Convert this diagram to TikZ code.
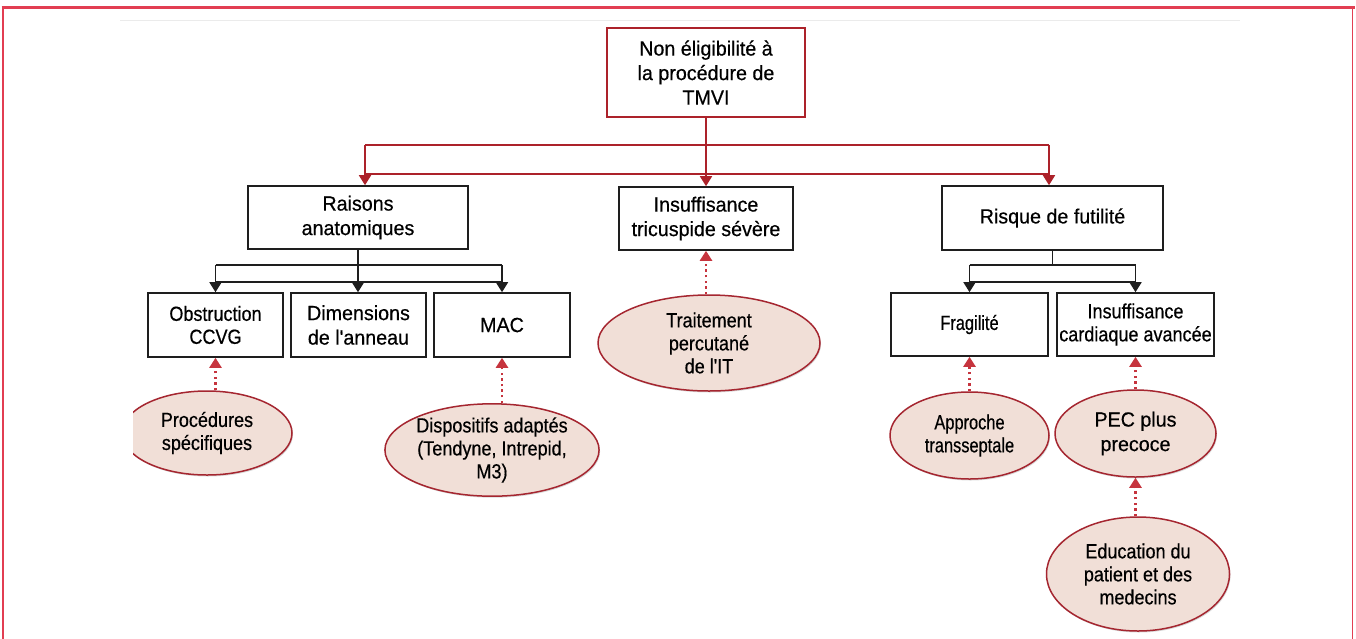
\documentclass[tikz,border=0pt]{standalone}
\usepackage{fontspec}
\setmainfont{Liberation Sans}
\newfontfamily\fontA[FakeStretch=0.96,FakeBold=0.5]{Liberation Sans}
\newfontfamily\fontB[FakeStretch=0.88,FakeBold=0.5]{Liberation Sans}
\newfontfamily\fontC[FakeStretch=0.80,FakeBold=0.5]{Liberation Sans}
\usetikzlibrary{arrows.meta,shapes.geometric,shadows}
\definecolor{framered}{RGB}{226,62,82}
\definecolor{darkred}{RGB}{172,34,42}
\definecolor{dotred}{RGB}{198,52,62}
\definecolor{ellfill}{RGB}{241,223,215}
\definecolor{ellline}{RGB}{165,38,48}
\definecolor{boxline}{RGB}{30,30,30}
\begin{document}
\begin{tikzpicture}[x=1pt,y=-1pt,
  fA/.style={font=\fontA\fontsize{20.5}{24.5}\selectfont},
  fB/.style={font=\fontB\fontsize{20.5}{23}\selectfont},
  fC/.style={font=\fontC\fontsize{20.5}{23}\selectfont},
  txt/.style={align=center, text=black},
  box/.style={txt, draw=boxline, line width=1.6pt, rectangle, inner sep=0pt},
  topbox/.style={box, draw=darkred},
  ell/.style={txt, ellipse, draw=ellline, fill=ellfill, line width=1.5pt, inner sep=0pt,
    drop shadow={shadow xshift=1pt, shadow yshift=-1.5pt, fill=black, opacity=0.15}},
  redc/.style={draw=darkred, line width=1.7pt},
  blkc/.style={draw=boxline, line width=1.7pt},
  tipb/.style={-{Triangle[width=12pt,length=10pt]}},
  dotarrow/.style={draw=dotred, line width=2.4pt, dash pattern=on 2.4pt off 3.2pt, -{Triangle[width=12pt,length=10pt]}},
]
\useasboundingbox (0,0) rectangle (1356,638);
\clip (0,0) rectangle (1356,638);
\fill[white] (0,0) rectangle (1356,638);

% frame
\draw[framered, line width=1.6pt] (3,7) -- (3,660);
\draw[framered, line width=1.6pt] (1352.5,7) -- (1352.5,660);
\draw[framered, line width=3pt] (1.5,7.5) -- (1354.5,7.5);
\draw[black!8, line width=1pt] (120,20.5) -- (1240,20.5);

% boxes
\node[topbox, fA, minimum width=198pt, minimum height=89pt] (top) at (706,72.5) {Non éligibilité à\\la procédure de\\TMVI};
\node[box, fA, minimum width=220pt, minimum height=63pt] (rai) at (358,217.5) {Raisons\\anatomiques};
\node[box, fA, minimum width=174pt, minimum height=63pt] (tric) at (706,218.5) {Insuffisance\\tricuspide sévère};
\node[box, fA, minimum width=221pt, minimum height=64pt] (ris) at (1052.5,218) {Risque de futilité};

\node[box, fB, minimum width=135pt, minimum height=64pt] (obs) at (215.5,325) {Obstruction\\CCVG};
\node[box, fA, minimum width=135pt, minimum height=64pt] (dim) at (358.5,325) {Dimensions\\de l'anneau};
\node[box, fA, minimum width=136pt, minimum height=64pt] (mac) at (502,325) {MAC};
\node[box, fC, minimum width=157pt, minimum height=63pt] (fra) at (969.5,324.5) {Fragilité};
\node[box, fB, minimum width=157pt, minimum height=63pt] (ica) at (1135.5,324.5) {Insuffisance\\cardiaque avancée};

% ellipses
\begin{scope}
\clip (133,380) rectangle (320,500);
\node[ell, fB, minimum width=170pt, minimum height=84pt] (proc) at (207,433) {Procédures\\spécifiques};
\end{scope}
\node[ell, fB, minimum width=198pt, minimum height=92pt] (disp) at (492,450) {Dispositifs adaptés\\(Tendyne, Intrepid,\\M3)};
\node[ell, fB, minimum width=222pt, minimum height=96pt] (trait) at (709,343) {Traitement\\percutané\\de l'IT};
\node[ell, fC, minimum width=159pt, minimum height=87pt] (appr) at (969.5,435.5) {Approche\\transseptale};
\node[ell, fA, minimum width=161pt, minimum height=87pt] (pec) at (1135.5,433.5) {PEC plus\\precoce};
\node[ell, fB, minimum width=183pt, minimum height=114pt] (edu) at (1138,574) {Education du\\patient et des\\medecins};

% red connectors
\coordinate (rA) at (365,145);
\coordinate (rB) at (1049,145);
\coordinate (rC) at (365,174);
\coordinate (rD) at (1049,174);
\draw[redc] (rA) -- (rB);
\draw[redc] (rC) -- (rD);
\draw[redc,tipb] (top.south) -- (tric.north);
\draw[redc,tipb] (rA) -- (rA |- rai.north);
\draw[redc,tipb] (rB) -- (rB |- ris.north);

% black connectors (left group)
\coordinate (bA) at (215.5,265);
\coordinate (bB) at (502,265);
\coordinate (bC) at (215.5,282);
\coordinate (bD) at (502,282);
\draw[blkc] (bA) -- (bB);
\draw[blkc] (bC) -- (bD);
\draw[blkc,tipb] (bA) -- (obs.north);
\draw[blkc,tipb] (rai.south) -- (rai.south |- dim.north);
\draw[blkc,tipb] (bB) -- (mac.north);

% black connectors (right group)
\coordinate (cA) at (969.5,265);
\coordinate (cB) at (1135.5,265);
\coordinate (cC) at (969.5,282);
\coordinate (cD) at (1135.5,282);
\draw[blkc] (ris.south) -- (ris.south |- cA);
\draw[blkc] (cA) -- (cB);
\draw[blkc] (cC) -- (cD);
\draw[blkc,tipb] (cA) -- (fra.north);
\draw[blkc,tipb] (cB) -- (ica.north);

% dotted arrows
\draw[dotarrow] (obs.south |- proc.north) -- (obs.south);
\draw[dotarrow] (mac.south |- disp.north) -- (mac.south);
\draw[dotarrow] (tric.south |- trait.north) -- (tric.south);
\draw[dotarrow] (fra.south |- appr.north) -- (fra.south);
\draw[dotarrow] (ica.south |- pec.north) -- (ica.south);
\draw[dotarrow] (pec.south |- edu.north) -- (pec.south);
\end{tikzpicture}
\end{document}
